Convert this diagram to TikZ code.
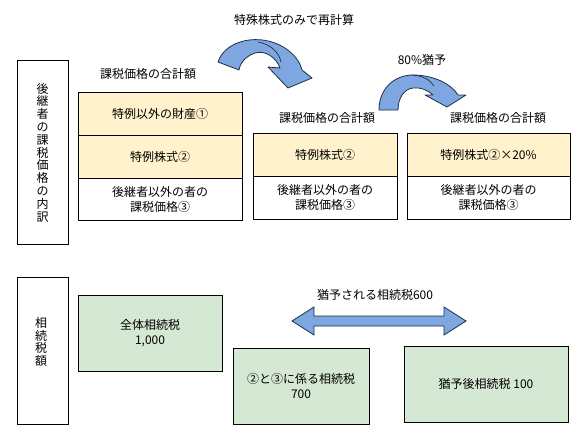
\documentclass[tikz,border=0pt]{standalone}
\usepackage{fontspec}
\setmainfont{Noto Sans CJK JP}
\definecolor{yel}{HTML}{FFF2CC}
\definecolor{grn}{HTML}{D5E8D4}
\definecolor{blu}{HTML}{7EA6E0}
\definecolor{arrowline}{HTML}{1F2F45}
\begin{document}
\begin{tikzpicture}[x=1pt,y=-1pt, font=\fontsize{12}{15}\selectfont,
  box/.style={draw=black, line width=0.9pt, inner sep=0pt, align=center},
  ybox/.style={box, fill=yel},
  wbox/.style={box, fill=white},
  gbox/.style={box, fill=grn},
  lbl/.style={inner sep=0pt, align=center},
  vtext/.style={lbl, font=\fontsize{12}{12.8}\selectfont},
  barrow/.style={fill=blu, draw=arrowline, line width=0.8pt, line join=round}]
\useasboundingbox (0,0) rectangle (585,447);
\fill[white] (0,0) rectangle (585,447);

% ---- upper section ----
\node[wbox, minimum width=51pt, minimum height=184pt] (side1) at (42.5,152) {};
\node[vtext] (side1t) at (42.5,152.5) {後\\継\\者\\の\\課\\税\\価\\格\\の\\内\\訳};

\node[lbl] (sum1) at (148,74) {課税価格の合計額};
\node[ybox, minimum width=164pt, minimum height=43pt] (r1a) at (160,113.5) {特例以外の財産①};
\node[ybox, minimum width=164pt, minimum height=43pt] (r1b) at (160,156.5) {特例株式②};
\node[wbox, minimum width=164pt, minimum height=42pt] (r1c) at (160,199) {後継者以外の者の\\課税価格③};

\node[lbl] (recalc) at (294,20) {特殊株式のみで再計算};
\node[lbl] (sum2) at (327,118) {課税価格の合計額};
\node[ybox, minimum width=144pt, minimum height=43pt] (r2b) at (325,154.5) {特例株式②};
\node[wbox, minimum width=144pt, minimum height=43pt] (r2c) at (325,197.5) {後継者以外の者の\\課税価格③};

\node[lbl] (defer) at (422,60) {80\%猶予};
\node[lbl] (sum3) at (498,118) {課税価格の合計額};
\node[ybox, minimum width=163pt, minimum height=43pt] (r3b) at (488.5,154.5) {特例株式②×20\%};
\node[wbox, minimum width=163pt, minimum height=43pt] (r3c) at (488.5,197.5) {後継者以外の者の\\課税価格③};

% curved arrow 1
\draw[barrow] (218,62) .. controls (225,40) and (260,32) .. (285,48)
  .. controls (295,55) and (300,62) .. (302,70)
  -- (312,78) -- (288,88) -- (268,67) -- (280,68)
  .. controls (276,57) and (265,50) .. (255,53)
  .. controls (246,56) and (240,63) .. (239,70) -- cycle;
\draw[arrowline, line width=0.7pt] (258,42) .. controls (270,44) and (279,52) .. (281,62);

% curved arrow 2
\draw[barrow] (379,110) .. controls (379,88) and (395,75) .. (413,75)
  .. controls (435,75) and (452,85) .. (458,95)
  -- (466,95) -- (447,107) -- (425,95) -- (433,95)
  .. controls (428,90) and (420,87) .. (413,88)
  .. controls (404,89) and (398,98) .. (398,110) -- cycle;
\draw[arrowline, line width=0.7pt] (412,75) .. controls (424,76) and (430,80) .. (434,86);

% ---- lower section ----
\node[wbox, minimum width=51pt, minimum height=147pt] (side2) at (42.5,350.5) {};
\node[vtext] (side2t) at (41,342) {相\\続\\税\\額};

\node[gbox, minimum width=144pt, minimum height=76pt, font=\fontsize{12}{14.5}\selectfont] (g1) at (150,333) {全体相続税\\1,000};
\node[gbox, minimum width=136pt, minimum height=76pt, font=\fontsize{12}{14.5}\selectfont] (g2) at (301,386) {②と③に係る相続税\\700};
\node[gbox, minimum width=164pt, minimum height=76pt] (g3) at (486,384) {猶予後相続税 100};

\node[lbl] (deferred) at (375,295) {猶予される相続税600};
\draw[barrow, line join=miter] (292,321) -- (314,307) -- (314,316) -- (444,316) -- (444,307)
  -- (466,321) -- (444,335) -- (444,326) -- (314,326) -- (314,335) -- cycle;
\end{tikzpicture}
\end{document}
